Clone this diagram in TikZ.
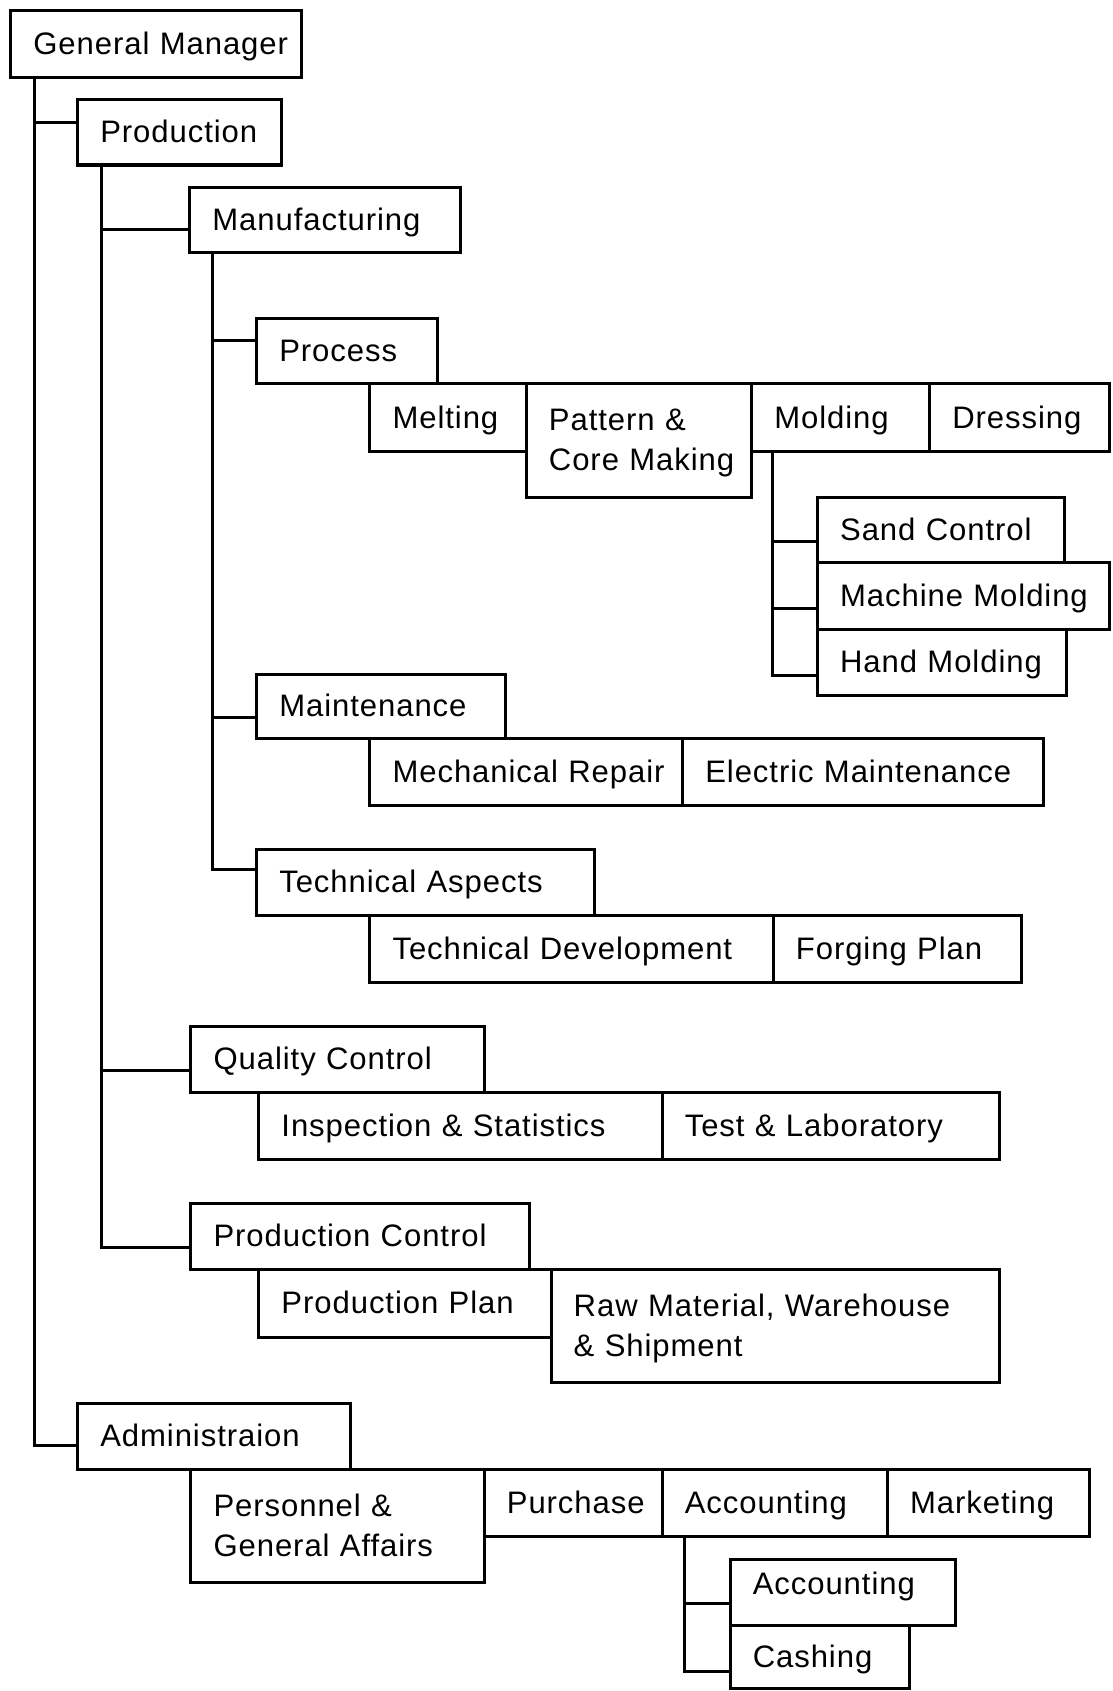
\documentclass[tikz,border=0pt]{standalone}
\usepackage{fontspec}
\setmainfont{Liberation Sans}[LetterSpace=3]
\usetikzlibrary{calc}
\newcommand\orgfont{\fontsize{14.4}{18.5}\selectfont\lineskiplimit=-100pt\relax}
\newcommand\mystr{\rule[-3.5pt]{0pt}{16.5pt}}
\newcommand\boxln[1]{\mbox{\mystr#1}}
\newcommand\orgbox[6]{%
  \pgfmathsetlengthmacro\bw{(#4-#2)*0.5pt-21pt}%
  \pgfmathsetlengthmacro\bh{(#5-#3)*0.5pt}%
  \node[orgb, text width=\bw, minimum height=\bh] (#1) at (#2,#3) {#6};}
\begin{document}
\begin{tikzpicture}[x=0.5pt,y=-0.5pt,
  orgb/.style={draw, line width=1.4pt, anchor=north west, align=left,
    inner xsep=10.5pt, inner ysep=0pt, outer sep=0pt, font=\orgfont},
  conn/.style={line width=1.4pt}]
\useasboundingbox (0,0) rectangle (1032,1568);
\orgbox{gm}{10}{10}{280}{72}{\boxln{General Manager}}
\orgbox{prod}{72}{92}{261}{153}{\boxln{Production}}
\orgbox{manuf}{176}{174}{427}{234}{\boxln{Manufacturing}}
\orgbox{proc}{238}{295}{406}{356}{\boxln{Process}}
\orgbox{melt}{343}{356}{488}{419}{\boxln{Melting}}
\orgbox{patt}{488}{356}{697}{461}{\boxln{Pattern \&}\\\boxln{Core Making}}
\orgbox{mold}{697}{356}{862}{419}{\boxln{Molding}}
\orgbox{dress}{862}{356}{1029}{419}{\boxln{Dressing}}
\orgbox{sand}{758}{461}{987}{522}{\boxln{Sand Control}}
\orgbox{mach}{758}{522}{1029}{584}{\boxln{Machine Molding}}
\orgbox{hand}{758}{584}{989}{645}{\boxln{Hand Molding}}
\orgbox{maint}{238}{625}{469}{685}{\boxln{Maintenance}}
\orgbox{mech}{343}{685}{633}{747}{\boxln{Mechanical Repair}}
\orgbox{elec}{633}{685}{968}{747}{\boxln{Electric Maintenance}}
\orgbox{tech}{238}{788}{551}{849}{\boxln{Technical Aspects}}
\orgbox{tdev}{343}{849}{717}{911}{\boxln{Technical Development}}
\orgbox{forg}{717}{849}{947}{911}{\boxln{Forging Plan}}
\orgbox{qc}{177}{952}{449}{1013}{\boxln{Quality Control}}
\orgbox{insp}{240}{1013}{614}{1075}{\boxln{Inspection \& Statistics}}
\orgbox{test}{614}{1013}{927}{1075}{\boxln{Test \& Laboratory}}
\orgbox{pc}{177}{1116}{491}{1177}{\boxln{Production Control}}
\orgbox{pplan}{240}{1177}{511}{1240}{\boxln{Production Plan}}
\orgbox{raw}{511}{1177}{927}{1282}{\boxln{Raw Material, Warehouse}\\\boxln{\& Shipment}}
\orgbox{admin}{72}{1301}{325}{1363}{\boxln{Administraion}}
\orgbox{pers}{177}{1363}{449}{1467}{\boxln{Personnel \&}\\\boxln{General Affairs}}
\orgbox{purch}{449}{1363}{614}{1425}{\boxln{Purchase}}
\orgbox{acc}{614}{1363}{823}{1425}{\boxln{Accounting}}
\orgbox{mark}{823}{1363}{1010}{1425}{\boxln{Marketing}}
\orgbox{accs}{677}{1446}{886}{1507}{\raisebox{5.5pt}[16.5pt][3.5pt]{\boxln{Accounting}}}
\orgbox{cash}{677}{1507}{843}{1566}{\boxln{Cashing}}
% General Manager trunk
\coordinate (gmT) at ($(gm.south west)+(22,0)$);
\coordinate (prodC) at ($(prod.north west)+(0,22)$);
\coordinate (adminC) at ($(admin.north west)+(0,39)$);
\draw[conn] (gmT) |- (adminC);
\draw[conn] (gmT |- prodC) -- (prodC);
% Production trunk
\coordinate (prodT) at ($(prod.south west)+(22,0)$);
\coordinate (manufC) at ($(manuf.north west)+(0,39)$);
\coordinate (qcC) at ($(qc.north west)+(0,41)$);
\coordinate (pcC) at ($(pc.north west)+(0,41)$);
\draw[conn] (prodT) |- (pcC);
\draw[conn] (prodT |- manufC) -- (manufC);
\draw[conn] (prodT |- qcC) -- (qcC);
% Manufacturing trunk
\coordinate (manufT) at ($(manuf.south west)+(21,0)$);
\coordinate (procC) at ($(proc.north west)+(0,21)$);
\coordinate (maintC) at ($(maint.north west)+(0,40)$);
\coordinate (techC) at ($(tech.north west)+(0,18)$);
\draw[conn] (manufT) |- (techC);
\draw[conn] (manufT |- procC) -- (procC);
\draw[conn] (manufT |- maintC) -- (maintC);
% Molding trunk
\coordinate (moldT) at ($(mold.south west)+(19,0)$);
\coordinate (sandC) at ($(sand.north west)+(0,41)$);
\coordinate (machC) at ($(mach.north west)+(0,42)$);
\coordinate (handC) at ($(hand.north west)+(0,42)$);
\draw[conn] (moldT) |- (handC);
\draw[conn] (moldT |- sandC) -- (sandC);
\draw[conn] (moldT |- machC) -- (machC);
% Accounting trunk
\coordinate (accT) at ($(acc.south west)+(21,0)$);
\coordinate (accsC) at ($(accs.north west)+(0,41)$);
\coordinate (cashC) at ($(cash.north west)+(0,43)$);
\draw[conn] (accT) |- (cashC);
\draw[conn] (accT |- accsC) -- (accsC);
\end{tikzpicture}
\end{document}
